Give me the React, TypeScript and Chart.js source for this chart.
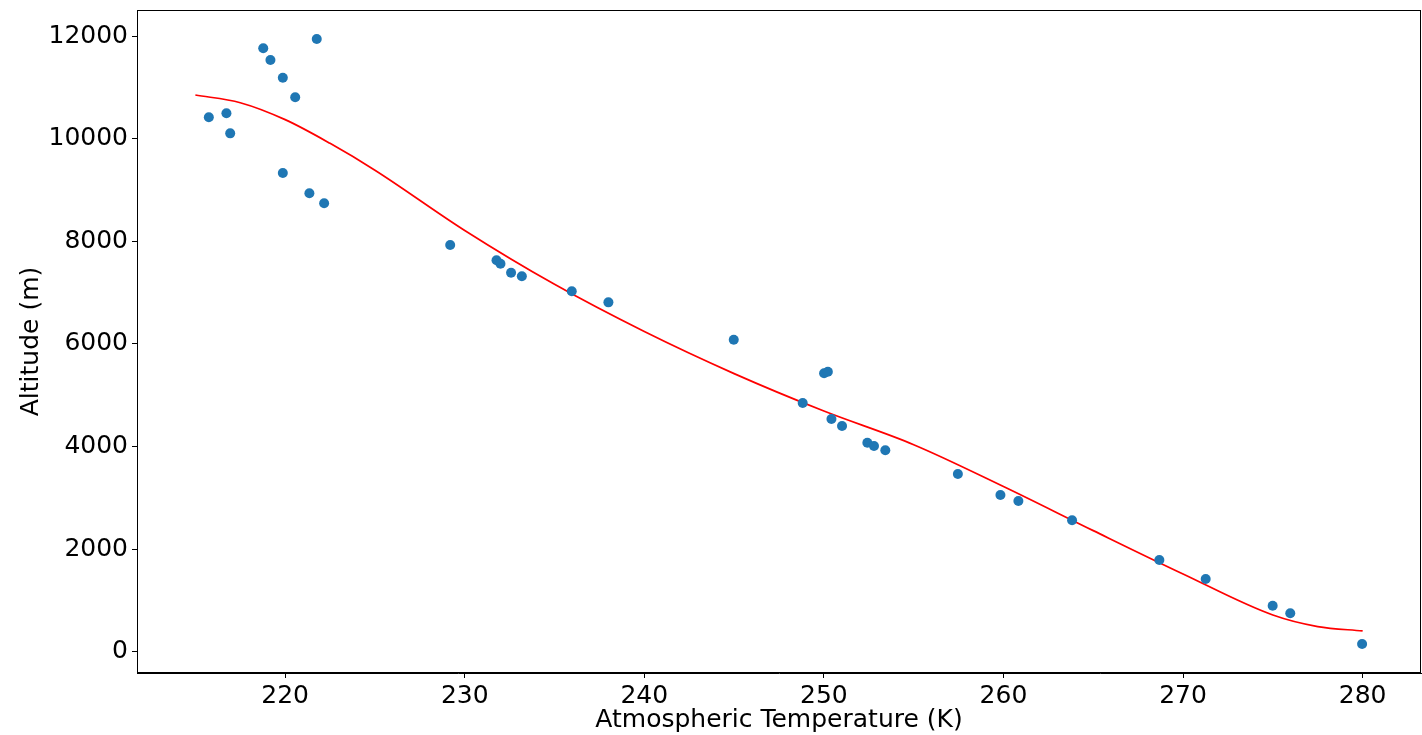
import React, { useEffect, useRef } from "react";
import { Chart, registerables } from "chart.js";

Chart.register(...registerables);

// Observed points: atmospheric temperature (K) and altitude (m)
const tempPoints = [
  215.75, 216.73, 216.94, 218.78, 219.18, 219.87, 220.56, 221.76, 219.87, 221.35,
  222.17, 229.19, 231.77, 231.99, 232.58, 233.18, 235.96, 238.0, 244.98, 248.82,
  250.01, 250.22, 250.42, 251.01, 252.42, 252.79, 253.42, 257.46, 259.83, 260.83,
  263.82, 268.68, 271.26, 274.99, 275.97, 279.97,
];
const altPoints = [
  10415, 10493, 10103, 11760, 11532, 11187, 10805, 11941, 9330, 8934,
  8739, 7926, 7628, 7562, 7387, 7316, 7024, 6809, 6081, 4847,
  5426, 5457, 4535, 4399, 4073, 4009, 3925, 3463, 3054, 2937,
  2561, 1787, 1417, 897, 748, 150,
];

// Fitted curve
const fitTemps = [215, 217.5, 220, 222.5, 225, 230, 235, 240, 245, 250, 255, 260, 265, 270, 275, 277.5, 280];
const fitAlts = [10850, 10700, 10370, 9908, 9385, 8210, 7160, 6240, 5420, 4690, 4035, 3220, 2360, 1515, 715, 490, 405];

const xTicks = [220, 230, 240, 250, 260, 270, 280];
const yTicks = [0, 2000, 4000, 6000, 8000, 10000, 12000];

const xTitle = "Atmospheric Temperature (K)";
const yTitle = "Altitude (m)";

const FONT = "'DejaVu Sans', sans-serif";

export default function App() {
  const canvasRef = useRef<HTMLCanvasElement | null>(null);

  useEffect(() => {
    document.body.style.margin = "0";
    const canvas = canvasRef.current;
    if (!canvas) return;

    const frame = {
      id: "frameBox",
      afterDatasetsDraw(chart: any) {
        const { ctx, chartArea } = chart;
        ctx.save();
        ctx.strokeStyle = "#000";
        ctx.lineWidth = 1;
        ctx.strokeRect(
          Math.round(chartArea.left) + 0.5,
          Math.round(chartArea.top) + 0.5,
          Math.round(chartArea.right - chartArea.left) - 1,
          Math.round(chartArea.bottom - chartArea.top) - 1
        );
        ctx.restore();
      },
    };

    const chart = new Chart(canvas, {
      type: "scatter",
      data: {
        datasets: [
          {
            label: "data",
            data: tempPoints.map((t, i) => ({ x: t, y: altPoints[i] })),
            backgroundColor: "#1f77b4",
            borderColor: "#1f77b4",
            pointRadius: 5,
            pointBorderWidth: 0,
            order: 0,
          },
          {
            label: "fit",
            type: "line",
            data: fitTemps.map((t, i) => ({ x: t, y: fitAlts[i] })),
            borderColor: "#ff0000",
            borderWidth: 1.7,
            pointRadius: 0,
            fill: false,
            cubicInterpolationMode: "monotone",
            order: 1,
          } as any,
        ],
      },
      options: {
        animation: false,
        responsive: true,
        maintainAspectRatio: false,
        layout: { autoPadding: false, padding: { top: 10, right: 1, left: 0, bottom: 0 } },
        plugins: { legend: { display: false }, tooltip: { enabled: false } },
        scales: {
          x: {
            type: "linear",
            min: 211.75,
            max: 283.25,
            afterBuildTicks: (scale: any) => {
              scale.ticks = xTicks.map((v) => ({ value: v }));
            },
            afterFit: (scale: any) => {
              scale.height = 62;
              scale.paddingLeft = 0;
              scale.paddingRight = 0;
            },
            grid: { drawOnChartArea: false, drawTicks: true, tickLength: 5, tickColor: "#000" },
            border: { display: true, color: "#000", width: 1 },
            ticks: {
              color: "#000",
              font: { family: FONT, size: 25 },
              padding: 3,
              maxRotation: 0,
              callback: (v: any) => String(v),
            },
            title: {
              display: true,
              text: xTitle,
              color: "#000",
              font: { family: FONT, size: 25, lineHeight: 1.2 },
              padding: { top: 0, bottom: 0 },
            },
          },
          y: {
            type: "linear",
            min: -415,
            max: 12507,
            afterBuildTicks: (scale: any) => {
              scale.ticks = yTicks.map((v) => ({ value: v }));
            },
            afterFit: (scale: any) => {
              scale.width = 137;
              scale.paddingTop = 0;
              scale.paddingBottom = 0;
            },
            grid: { drawOnChartArea: false, drawTicks: true, tickLength: 5, tickColor: "#000" },
            border: { display: true, color: "#000", width: 1 },
            ticks: {
              color: "#000",
              font: { family: FONT, size: 25 },
              padding: 4,
              callback: (v: any) => String(v),
            },
            title: {
              display: true,
              text: yTitle,
              color: "#000",
              font: { family: FONT, size: 25, lineHeight: 1.2 },
              padding: { top: 16, bottom: 0 },
            },
          },
        },
      },
      plugins: [frame],
    });

    return () => {
      chart.destroy();
    };
  }, []);

  return (
    <div style={{ position: "absolute", left: 0, top: 0, width: 1422, height: 735 }}>
      <canvas ref={canvasRef} />
    </div>
  );
}
